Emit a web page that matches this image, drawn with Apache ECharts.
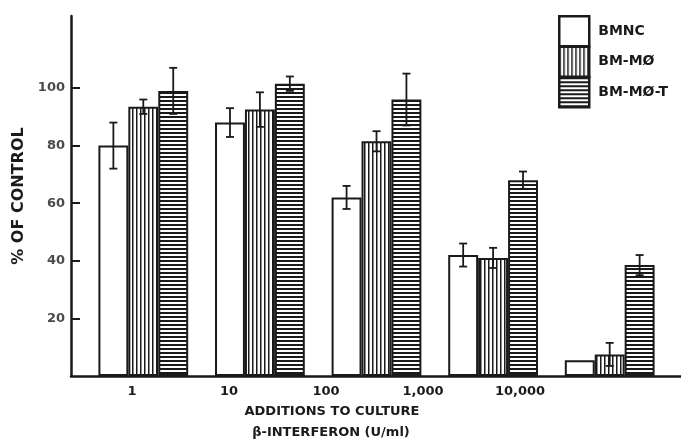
<!DOCTYPE html>
<html>
<head>
<meta charset="utf-8">
<script src="https://cdn.jsdelivr.net/npm/echarts@6/dist/echarts.min.js"></script>
<style>
  html, body { margin: 0; padding: 0; background: #fff; }
  #box { width: 681px; height: 440px; }
</style>
</head>
<body>
<div id="box"></div>
<script>
// data
var doses = ['1', '10', '100', '1,000', '10,000'];
var seriesNames = ['BMNC', 'BM-MØ', 'BM-MØ-T'];
var bmnc = [80, 88, 62, 42, 5.5];
var bmncErr = [8, 5, 4, 4, 0];
var bmMo = [93.5, 92.5, 81.5, 41, 7.5];
var bmMoErr = [2.5, 6, 3.5, 3.5, 4];
var bmMoT = [99, 101.5, 96, 68, 38.5];
var bmMoTErr = [8, 2.5, 9, 3, 3.5];
var yTicks = [20, 40, 60, 80, 100];

var values = [bmnc, bmMo, bmMoT];
var errors = [bmncErr, bmMoErr, bmMoTErr];

var FONT = 'DejaVu Sans';
var INK = '#1a1a1a';
var GAP = 0.23;

// hatch fills
function stripes(vertical) {
  var c = document.createElement('canvas');
  c.width = 4; c.height = 4;
  var ctx = c.getContext('2d');
  ctx.fillStyle = '#fff';
  ctx.fillRect(0, 0, 4, 4);
  ctx.fillStyle = INK;
  if (vertical) ctx.fillRect(0, 0, 1.5, 4);
  else ctx.fillRect(0, 0, 4, 2);
  return c;
}
var fills = [
  '#ffffff',
  { image: stripes(true), repeat: 'repeat' },
  { image: stripes(false), repeat: 'repeat' }
];

var chart = echarts.init(document.getElementById('box'));

var series = [];
seriesNames.forEach(function (name, s) {
  series.push({
    name: name,
    type: 'bar',
    xAxisIndex: 1,
    yAxisIndex: 1,
    barGap: 0,
    barCategoryGap: (GAP * 100) + '%',
    itemStyle: { color: fills[s], borderColor: INK, borderWidth: 2 },
    data: values[s]
  });
});
seriesNames.forEach(function (name, s) {
  series.push({
    type: 'custom',
    xAxisIndex: 1,
    yAxisIndex: 1,
    z: 5,
    silent: true,
    data: values[s].map(function (v, i) { return [i, v, errors[s][i]]; }),
    renderItem: function (params, api) {
      var cat = api.value(0), val = api.value(1), e = api.value(2);
      if (!e) return null;
      var band = api.size([1, 0])[0];
      var bw = band * (1 - GAP) / 3;
      var x = api.coord([cat, val])[0] + (s - 1) * bw;
      var top = api.coord([cat, val + e])[1];
      var bot = api.coord([cat, val - e])[1];
      var st = { stroke: INK, lineWidth: 1.8 };
      return {
        type: 'group',
        children: [
          { type: 'line', shape: { x1: x, y1: top, x2: x, y2: bot }, style: st },
          { type: 'line', shape: { x1: x - 4, y1: top, x2: x + 4, y2: top }, style: st },
          { type: 'line', shape: { x1: x - 4, y1: bot, x2: x + 4, y2: bot }, style: st }
        ]
      };
    }
  });
});

var option = {
  animation: false,
  legend: {
    data: seriesNames,
    orient: 'vertical',
    left: 558,
    top: 15,
    padding: 0,
    itemWidth: 30,
    itemHeight: 30,
    itemGap: -2,
    icon: 'rect',
    itemStyle: { borderWidth: 2.5, borderColor: INK },
    textStyle: { fontFamily: FONT, fontWeight: 'bold', fontSize: 14, color: INK, padding: [0, 0, 0, 4] }
  },
  grid: [
    { left: 71, right: 0, top: 16, bottom: 64 },
    { left: 85, width: 583, top: 16, bottom: 64 },
    { left: 83.5, width: 485, top: 16, bottom: 64 }
  ],
  xAxis: [
    {
      gridIndex: 0, type: 'value', min: 0, max: 1,
      axisLine: { show: true, lineStyle: { color: INK, width: 2.5 } },
      axisTick: { show: false }, axisLabel: { show: false }, splitLine: { show: false }
    },
    {
      gridIndex: 1, type: 'category', data: doses,
      axisLine: { show: false }, axisTick: { show: false }, axisLabel: { show: false }
    },
    {
      gridIndex: 2, type: 'category', data: doses,
      axisLine: { show: false }, axisTick: { show: false },
      axisLabel: { margin: 9, fontFamily: FONT, fontWeight: 'bold', fontSize: 13, color: INK }
    }
  ],
  yAxis: [
    {
      gridIndex: 0, type: 'value', min: 0, max: 125,
      name: '% OF CONTROL',
      nameLocation: 'middle',
      nameGap: 33,
      nameTextStyle: { fontFamily: FONT, fontWeight: 'bold', fontSize: 16, color: INK },
      axisLine: { show: true, lineStyle: { color: INK, width: 2.5 } },
      axisTick: { show: true, inside: true, length: 9, customValues: yTicks, lineStyle: { color: INK, width: 2 } },
      axisLabel: { margin: 6, customValues: yTicks, fontFamily: FONT, fontWeight: 'bold', fontSize: 13, color: '#4a4a4a' },
      splitLine: { show: false }
    },
    {
      gridIndex: 1, type: 'value', min: 0, max: 125, show: false
    },
    {
      gridIndex: 2, type: 'value', min: 0, max: 125, show: false
    }
  ],
  graphic: [
    {
      type: 'text', x: 332, y: 412,
      style: { text: 'ADDITIONS TO CULTURE', align: 'center', verticalAlign: 'middle',
        font: 'bold 13px "DejaVu Sans"', fill: INK }
    },
    {
      type: 'text', x: 331, y: 433,
      style: { text: 'β-INTERFERON (U/ml)', align: 'center', verticalAlign: 'middle',
        font: 'bold 13px "DejaVu Sans"', fill: INK }
    }
  ],
  series: series
};

chart.setOption(option);
</script>
</body>
</html>
